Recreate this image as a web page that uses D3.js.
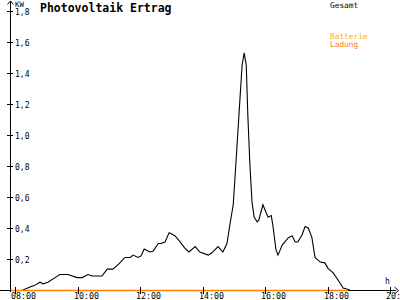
<!DOCTYPE html>
<html>
<head>
<meta charset="utf-8">
<script src="https://cdn.jsdelivr.net/npm/d3@7"></script>
<style>
  body { margin: 0; background: #fff; }
  svg { display: block; }
  text { font-family: "DejaVu Sans Mono", monospace; }
</style>
</head>
<body>
<svg width="400" height="300"></svg>
<script>
const W = 400
const H = 300

// Gesamt (kW)
const gesamtTimes = ["08:15","08:29","08:38","08:48","08:54","09:03","09:17","09:26","09:42","09:59",
    "10:09","10:20","10:28","10:37","10:47","10:57","11:08","11:20","11:31","11:41",
    "11:47","11:56","12:02","12:08","12:19","12:25","12:35","12:40","12:48","12:56",
    "13:07","13:17","13:26","13:34","13:46","13:55","14:11","14:18","14:30","14:39",
    "14:47","14:53","14:59","15:04","15:10","15:16","15:20","15:24","15:27","15:31",
    "15:35","15:39","15:45","15:48","15:52","15:56","16:02","16:06","16:12","16:15",
    "16:21","16:25","16:33","16:44","16:52","16:58","17:03","17:11","17:17","17:23",
    "17:30","17:36","17:46","17:55","18:01","18:11","18:24","18:30","18:37","18:43"]
const gesamtValues = [0, 0.02, 0.03, 0.05, 0.04, 0.05, 0.08, 0.10, 0.10, 0.08,
    0.08, 0.10, 0.09, 0.09, 0.09, 0.135, 0.135, 0.17, 0.21, 0.21,
    0.225, 0.21, 0.22, 0.265, 0.245, 0.25, 0.30, 0.30, 0.31, 0.37,
    0.35, 0.31, 0.27, 0.245, 0.28, 0.245, 0.225, 0.24, 0.28, 0.245,
    0.30, 0.43, 0.55, 0.81, 1.13, 1.45, 1.53, 1.45, 1.13, 0.81,
    0.57, 0.47, 0.44, 0.45, 0.50, 0.55, 0.50, 0.47, 0.48, 0.42,
    0.26, 0.225, 0.29, 0.335, 0.35, 0.31, 0.31, 0.355, 0.41, 0.40,
    0.34, 0.21, 0.18, 0.175, 0.14, 0.11, 0.045, 0.013, 0.006, 0]

// Ladung sits on zero the whole day
const ladungTimes = ["07:50", "18:40"]
const ladungValues = [0, 0]

const xTicks = ["08:00","10:00","12:00","14:00","16:00","18:00","20:00"]
const yTicks = [0.2, 0.4, 0.6, 0.8, 1.0, 1.2, 1.4, 1.6, 1.8]

const legendNames = ["Gesamt", "Batterie", "Ladung"]
const legendColors = ["#000000", "#ffaa00", "#ff8000"]

const parse = d3.timeParse("%H:%M")

const x = d3.scaleTime()
    .domain([parse("08:00"), parse("20:00")])
    .range([15, 390])
const y = d3.scaleLinear()
    .domain([0, 1.8])
    .range([290, 11])

const svg = d3.select("svg")

// lines first so axes draw on top
const line = d3.line()
    .x(d => x(d.t))
    .y(d => y(d.v))

const gesamt = gesamtTimes.map((t, i) => ({ t: parse(t), v: gesamtValues[i] }))
const ladung = ladungTimes.map((t, i) => ({ t: parse(t), v: ladungValues[i] }))

svg.append("line")
    .attr("x1", 0).attr("x2", 396)
    .attr("y1", y(0) + 0.5).attr("y2", y(0) + 0.5)
    .attr("stroke", "#000")

svg.append("path")
    .datum(gesamt)
    .attr("fill", "none")
    .attr("stroke", "#000")
    .attr("stroke-width", 1.1)
    .attr("d", line)

svg.append("path")
    .datum(ladung)
    .attr("fill", "none")
    .attr("stroke", legendColors[2])
    .attr("stroke-width", 1.5)
    .attr("transform", "translate(0,0.5)")
    .attr("d", line)

// y axis
svg.append("line")
    .attr("x1", 10.5).attr("x2", 10.5)
    .attr("y1", 1).attr("y2", 292)
    .attr("stroke", "#000")
svg.append("path")
    .attr("d", "M7.5,4.5 L10.5,1 L13.5,4.5")
    .attr("fill", "none")
    .attr("stroke", "#000")

// x axis arrow
svg.append("path")
    .attr("d", "M394.5,287 L398.5,290.5 L394.5,294")
    .attr("fill", "none")
    .attr("stroke", "#000")

const yt = svg.append("g").selectAll("g")
    .data(yTicks)
    .join("g")
    .attr("transform", d => "translate(0," + Math.round(y(d)) + ")")
yt.append("line")
    .attr("x1", 7).attr("x2", 13)
    .attr("y1", 0.5).attr("y2", 0.5)
    .attr("stroke", "#000")
yt.append("text")
    .attr("x", 15)
    .attr("y", 3.5)
    .attr("font-size", "8px")
    .text(d => d3.format(".1f")(d).replace(".", ","))

const xt = svg.append("g").selectAll("g")
    .data(xTicks)
    .join("g")
    .attr("transform", d => "translate(" + Math.round(x(parse(d))) + ",0)")
xt.append("line")
    .attr("x1", 0.5).attr("x2", 0.5)
    .attr("y1", 287).attr("y2", 294)
    .attr("stroke", "#000")
xt.append("text")
    .attr("x", -4)
    .attr("y", 299)
    .attr("font-size", "8.3px")
    .text(d => d)

svg.append("text")
    .attr("x", 15).attr("y", 7)
    .attr("font-size", "7.5px")
    .text("KW")
svg.append("text")
    .attr("x", 385).attr("y", 284)
    .attr("font-size", "8px")
    .text("h")

svg.append("text")
    .attr("x", 40).attr("y", 12)
    .attr("font-size", "11.5px")
    .attr("font-weight", "bold")
    .text("Photovoltaik Ertrag")

svg.append("g").selectAll("text")
    .data(legendNames)
    .join("text")
    .attr("x", 330)
    .attr("y", (d, i) => [7.5, 39, 46.5][i])
    .attr("font-size", "7.8px")
    .attr("fill", (d, i) => legendColors[i])
    .text(d => d)
</script>
</body>
</html>
